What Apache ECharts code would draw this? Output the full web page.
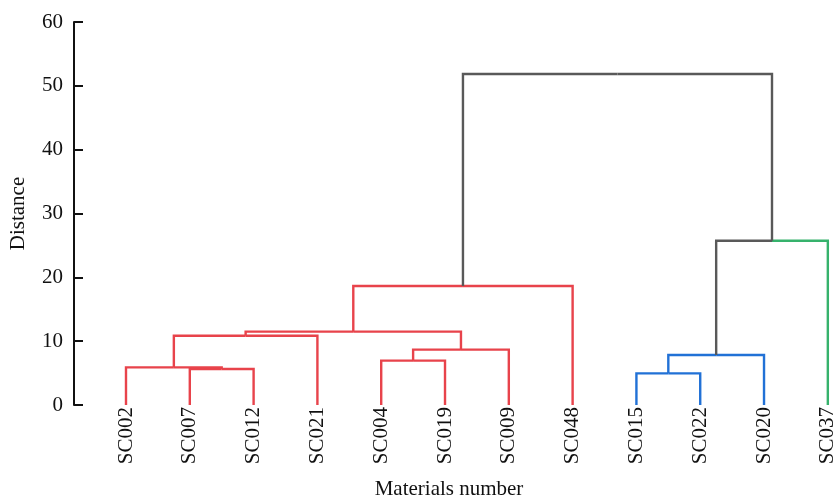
<!DOCTYPE html>
<html>
<head>
<meta charset="utf-8">
<script src="https://cdn.jsdelivr.net/npm/echarts@6/dist/echarts.min.js"></script>
<style>html,body{margin:0;padding:0;background:#fff}#c{width:834px;height:499px}</style>
</head>
<body>
<div id="c"></div>
<script>
// Leaves in dendrogram order
var leafNames = ['SC002','SC007','SC012','SC021','SC004','SC019','SC009','SC048','SC015','SC022','SC020','SC037'];
// Merges: node ids 0..11 are leaves, merge k creates node 12+k
var mergeLeft   = [1, 0, 13, 4, 15, 14, 17, 8, 19, 20, 18];
var mergeRight  = [2, 12, 3, 5, 6, 16, 7, 9, 10, 11, 21];
var mergeHeight = [5.65, 5.9, 10.86, 6.95, 8.67, 11.49, 18.64, 4.96, 7.83, 25.74, 51.86];
// colour names per half of each merge
var mergeLeftColor  = ['red','red','red','red','red','red','red','blue','blue','gray','gray'];
var mergeRightColor = ['red','red','red','red','red','red','red','blue','blue','green','gray'];
var yTicks = [0, 10, 20, 30, 40, 50, 60];

var palette = {red:'#e8434b', blue:'#2171d6', green:'#36b26c', gray:'#595959'};

// compute node positions (x = midpoint of children, y = merge height)
var nodeX = [], nodeY = [];
for (var i = 0; i < leafNames.length; i++) { nodeX.push(i); nodeY.push(0); }
var links = [];
for (var k = 0; k < mergeHeight.length; k++) {
  var a = mergeLeft[k], b = mergeRight[k], h = mergeHeight[k];
  var xm = (nodeX[a] + nodeX[b]) / 2;
  links.push([nodeX[a], nodeY[a], xm, h, nodeX[b], nodeY[b], k]);
  nodeX.push(xm); nodeY.push(h);
}
var leafData = leafNames.map(function (n, i) { return [i, 0, n]; });

var chart = echarts.init(document.getElementById('c'));
var serif = '"Liberation Serif","Times New Roman",serif';
chart.setOption({
  animation: false,
  backgroundColor: '#fff',
  grid: {left: 74, right: 10, top: 22, bottom: 94, containLabel: false, outerBoundsMode: 'none'},
  xAxis: {
    type: 'value', min: -0.815, max: 10.94,
    name: 'Materials number', nameLocation: 'middle', nameGap: 74,
    nameTextStyle: {fontFamily: serif, fontSize: 21, color: '#111'},
    axisLine: {show: false}, axisTick: {show: false}, axisLabel: {show: false}, splitLine: {show: false}
  },
  yAxis: {
    type: 'value', min: yTicks[0], max: yTicks[yTicks.length - 1], interval: 10,
    name: 'Distance', nameLocation: 'middle', nameGap: 45, nameRotate: 90,
    nameTextStyle: {fontFamily: serif, fontSize: 21, color: '#111'},
    axisLine: {show: true, onZero: false, lineStyle: {color: '#111', width: 2}},
    axisTick: {show: true, inside: true, length: 9, lineStyle: {color: '#111', width: 2}},
    axisLabel: {fontFamily: serif, fontSize: 21, color: '#111', margin: 11},
    splitLine: {show: false}
  },
  series: [{
    type: 'custom',
    clip: false,
    data: links,
    encode: {x: [0, 2, 4], y: [1, 3, 5]},
    renderItem: function (params, api) {
      var k = api.value(6);
      var pL = api.coord([api.value(0), api.value(1)]);
      var pT = api.coord([api.value(2), api.value(3)]);
      var pR = api.coord([api.value(4), api.value(5)]);
      var lc = palette[mergeLeftColor[k]], rc = palette[mergeRightColor[k]];
      return {type: 'group', children: [
        {type: 'polyline', shape: {points: [[pL[0], pL[1]], [pL[0], pT[1]], [pT[0], pT[1]]]},
         style: {stroke: lc, lineWidth: 2.4, fill: null}},
        {type: 'polyline', shape: {points: [[pT[0], pT[1]], [pR[0], pT[1]], [pR[0], pR[1]]]},
         style: {stroke: rc, lineWidth: 2.4, fill: null}}
      ]};
    }
  }, {
    type: 'custom',
    clip: false,
    data: leafData,
    encode: {x: 0, y: 1},
    renderItem: function (params, api) {
      var p = api.coord([api.value(0), api.value(1)]);
      return {type: 'text', x: p[0], y: p[1] + 2, rotation: Math.PI / 2,
        style: {text: leafNames[params.dataIndex], fontFamily: serif, fontSize: 21, fill: '#111',
                align: 'right', verticalAlign: 'middle'}};
    }
  }]
});
</script>
</body>
</html>
